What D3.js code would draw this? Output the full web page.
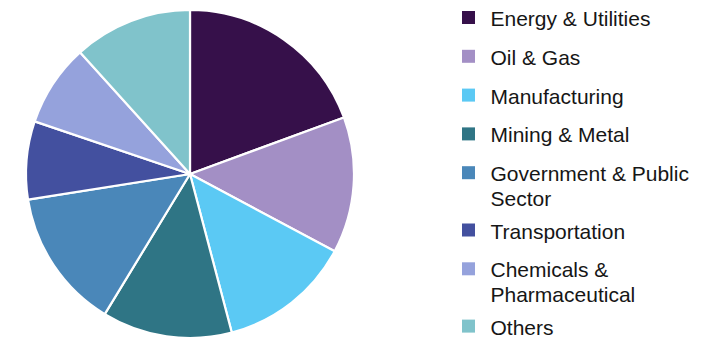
<!DOCTYPE html>
<html><head><meta charset="utf-8">
<script src="https://cdn.jsdelivr.net/npm/d3@7"></script>
<style>html,body{margin:0;padding:0;background:#fff;}svg{display:block;}</style>
</head><body>
<svg id="c" width="702" height="338"></svg>
<script>
const categories = ["Energy & Utilities","Oil & Gas","Manufacturing","Mining & Metal","Government & Public Sector","Transportation","Chemicals & Pharmaceutical","Others"];
const legendLines = [["Energy & Utilities"],["Oil & Gas"],["Manufacturing"],["Mining & Metal"],["Government & Public","Sector"],["Transportation"],["Chemicals &","Pharmaceutical"],["Others"]];
const shares = [19.4, 13.4, 13.1, 12.8, 13.8, 7.7, 8.1, 11.7];
const colors = ["#36104a","#a38fc5","#5bc9f4","#2f7585","#4a87b9","#43509f","#95a2dc","#80c3cb"];

const svg = d3.select("#c");
const cx = 190, cy = 174, r = 164;
const pie = d3.pie().sort(null).value(d => d)(shares);
const arc = d3.arc().innerRadius(0).outerRadius(r);
svg.append("g").attr("transform",`translate(${cx},${cy})`)
  .selectAll("path").data(pie).join("path")
  .attr("d", arc)
  .attr("fill", (d,i) => colors[i])
  .attr("stroke", "#fff").attr("stroke-width", 2.2).attr("stroke-linejoin","round");

const lg = svg.append("g");
let y = 26;
legendLines.forEach((lines, i) => {
  lg.append("rect").attr("x", 462).attr("y", y - 15).attr("width", 13).attr("height", 13).attr("fill", colors[i]);
  const t = lg.append("text").attr("x", 490.5).attr("y", y)
    .attr("font-family", "Liberation Sans, Arial, sans-serif").attr("font-size", 21).attr("fill", "#161616");
  lines.forEach((ln, j) => t.append("tspan").attr("x", 490.5).attr("dy", j === 0 ? 0 : 25).text(ln));
  y += 38.8 + (lines.length - 1) * 18.5;
});
</script>
</body></html>
